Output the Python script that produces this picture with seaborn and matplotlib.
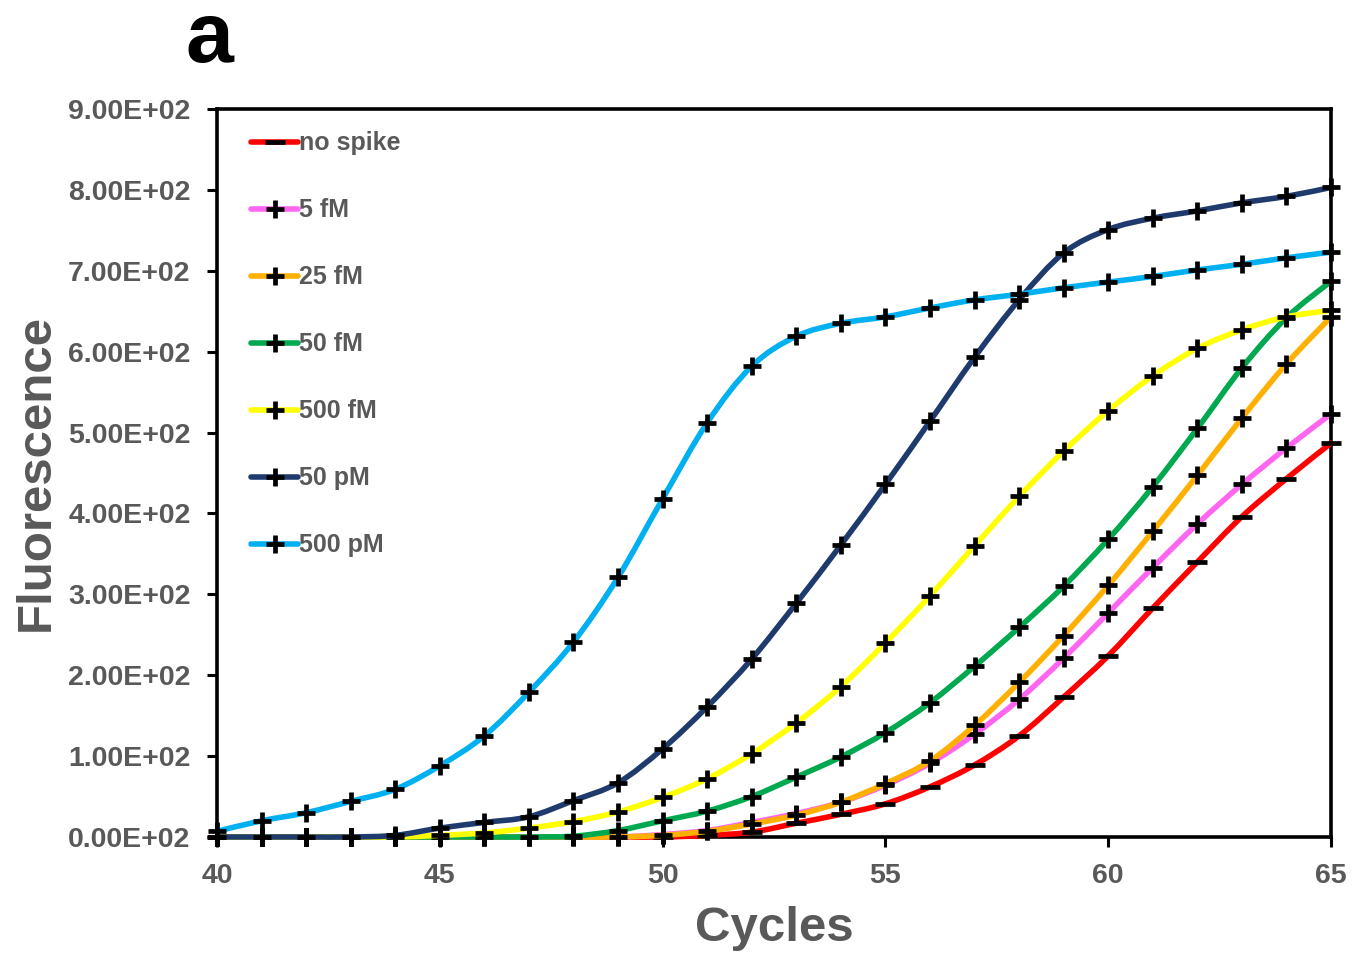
import numpy as np
import pandas as pd
import matplotlib
matplotlib.use("Agg")
import matplotlib.pyplot as plt
from matplotlib.path import Path
from matplotlib.patches import PathPatch
from matplotlib.lines import Line2D
import seaborn as sns

cycles = list(range(40, 66))

no_spike = [0, 0, 0, 0, 0, 0, 0, 0, 0, 0, 0, 2, 6, 17, 28, 41, 62, 89, 125, 173, 224, 283, 340, 396, 443, 487]
fm_5 = [0, 0, 0, 0, 0, 0, 0, 0, 0, 0, 3, 8, 18, 29, 43, 64, 91, 127, 170, 221, 277, 333, 387, 436, 481, 523]
fm_25 = [0, 0, 0, 0, 0, 0, 0, 0, 0, 0, 2, 7, 16, 27, 43, 66, 94, 138, 191, 249, 311, 378, 447, 518, 585, 643]
fm_50 = [0, 0, 0, 0, 0, 0, 0, 0, 1, 8, 20, 32, 50, 74, 99, 129, 166, 211, 259, 310, 368, 433, 505, 580, 642, 687]
fm_500 = [0, 0, 0, 0, 0, 2, 5, 11, 19, 31, 49, 72, 103, 141, 186, 240, 298, 360, 421, 477, 527, 570, 604, 627, 643, 651]
pm_50 = [0, 0, 0, 0, 2, 11, 18, 25, 45, 67, 109, 161, 220, 289, 361, 436, 514, 593, 664, 722, 751, 765, 774, 784, 792, 803]
pm_500 = [7, 20, 30, 44, 59, 88, 125, 179, 241, 321, 418, 512, 582, 619, 635, 643, 654, 664, 671, 679, 686, 693, 701, 708, 716, 723]

labels = ["no spike", "5 fM", "25 fM", "50 fM", "500 fM", "50 pM", "500 pM"]
colors = ["#FF0000", "#FF66F0", "#FFB000", "#00A84F", "#FFFF00", "#1F3B6E", "#00B0F0"]
markers = ["_", "+", "+", "+", "+", "+", "+"]
series = [no_spike, fm_5, fm_25, fm_50, fm_500, pm_50, pm_500]

y_ticks = [0, 100, 200, 300, 400, 500, 600, 700, 800, 900]
x_ticks = [40, 45, 50, 55, 60, 65]

LW = 4.0
MEW = 3.4


def smooth_path(xs, ys):
    """Cubic Bezier path through the points (spreadsheet-style smoothed line)."""
    pts = np.column_stack([xs, ys]).astype(float)
    n = len(pts)
    verts = [pts[0]]
    codes = [Path.MOVETO]
    for i in range(n - 1):
        p0 = pts[max(i - 1, 0)]
        p1 = pts[i]
        p2 = pts[i + 1]
        p3 = pts[min(i + 2, n - 1)]
        c1 = p1 + (p2 - p0) / 6.0
        c2 = p2 - (p3 - p1) / 6.0
        verts += [c1, c2, p2]
        codes += [Path.CURVE4] * 3
    return Path(verts, codes)


sns.set_theme(style="white")
plt.rcParams["font.family"] = ["Liberation Sans", "DejaVu Sans"]

fig = plt.figure(figsize=(13.67, 9.56), dpi=100)
ax = fig.add_axes([0.1587, 0.1245, 0.815, 0.7615])

gray = "#595959"
handles = []
for k, (name, vals, col, mk) in enumerate(zip(labels, series, colors, markers)):
    df = pd.DataFrame({"Cycles": cycles, "Fluorescence": vals})
    # smoothed connecting line
    ax.add_patch(PathPatch(smooth_path(df["Cycles"], df["Fluorescence"]),
                           facecolor="none", edgecolor=col, lw=LW,
                           capstyle="round", joinstyle="round",
                           zorder=2 + 2 * k, clip_on=False))
    # data point markers
    ms = 13.5 if mk == "+" else 14
    sns.lineplot(data=df, x="Cycles", y="Fluorescence", ax=ax, color="black",
                 linestyle="none", marker=mk, markersize=ms, mec="black",
                 mew=MEW, zorder=3 + 2 * k, clip_on=False, legend=False)
    handles.append(Line2D([], [], color=col, lw=LW, solid_capstyle="round",
                          marker=mk, markersize=ms, mec="black", mfc="black",
                          mew=MEW, label=name))

ax.set_xlim(40, 65)
ax.set_ylim(0, 900)
ax.set_xticks(x_ticks)
ax.set_yticks(y_ticks)
ax.set_xticklabels([str(t) for t in x_ticks])
ax.set_yticklabels(["%.2fE+02" % (t / 100) for t in y_ticks])
ax.tick_params(axis="both", which="major", direction="out", length=7, width=2.2,
               color="black", labelsize=20.5, labelcolor=gray, pad=12,
               bottom=True, left=True)
for lab in ax.get_xticklabels() + ax.get_yticklabels():
    lab.set_fontweight("bold")

for sp in ax.spines.values():
    sp.set_visible(True)
    sp.set_color("black")
    sp.set_linewidth(2.6)
    sp.set_zorder(1.5)

ax.set_xlabel("Cycles", fontsize=35.5, fontweight="bold", color=gray, labelpad=12)
ax.set_ylabel("Fluorescence", fontsize=35.5, fontweight="bold", color=gray, labelpad=7)

leg = ax.legend(handles=handles, loc="upper left", bbox_to_anchor=(0.022, 0.983),
                frameon=False, fontsize=18, labelspacing=1.72, handlelength=1.85,
                handletextpad=0.06, borderaxespad=0)
for t in leg.get_texts():
    t.set_color(gray)
    t.set_fontweight("bold")

fig.text(0.136, 0.935, "a", fontsize=62, fontweight="bold", color="black",
         ha="left", va="baseline")

fig.savefig("out.png", dpi=100, facecolor="white")
